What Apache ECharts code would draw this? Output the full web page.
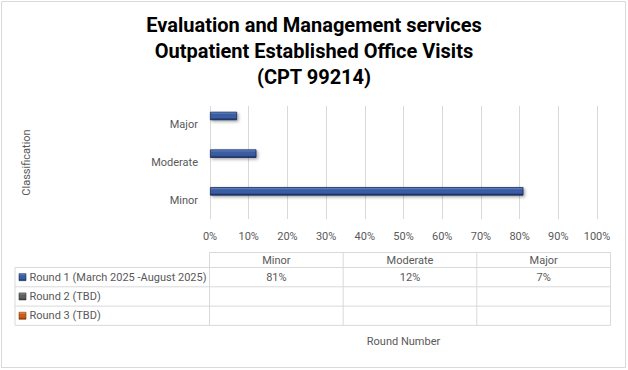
<!DOCTYPE html>
<html>
<head>
<meta charset="utf-8">
<script src="https://cdn.jsdelivr.net/npm/echarts@6/dist/echarts.min.js"></script>
<style>
html,body{margin:0;padding:0;background:#fff;}
#c{width:628px;height:370px;}
</style>
</head>
<body>
<div id="c"></div>
<script>
// ---- data ----
var titleLines = ['Evaluation and Management services', 'Outpatient Established Office Visits', '(CPT 99214)'];
var categories = ['Minor', 'Moderate', 'Major'];
var roundNames = ['Round 1 (March 2025 -August 2025)', 'Round 2 (TBD)', 'Round 3 (TBD)'];
var round1 = [81, 12, 7];
var round2 = [null, null, null];
var round3 = [null, null, null];
var xTicks = [0, 10, 20, 30, 40, 50, 60, 70, 80, 90, 100];
var yAxisTitle = 'Classification';
var xAxisTitle = 'Round Number';

// ---- styles ----
var FONT = 'Roboto, sans-serif';
var TXT = '#595959';
var roundColors = [
  ['#6f92d8', '#3a5ca3', '#172c57'],
  ['#9a9a9a', '#5f5f5f', '#333333'],
  ['#f5a060', '#c95e14', '#7f3606']
];
function grad(c) {
  return new echarts.graphic.LinearGradient(0, 0, 0, 1, [
    {offset: 0, color: c[0]}, {offset: 0.3, color: c[1]}, {offset: 0.7, color: c[1]}, {offset: 1, color: c[2]}
  ]);
}
var seriesData = [round1, round2, round3];

var chart = echarts.init(document.getElementById('c'), null, {renderer: 'svg'});

var GRID = {left: 210, right: 31, top: 106, bottom: 151};

var series = seriesData.map(function (d, i) {
  return {
    type: 'bar',
    name: roundNames[i],
    data: d,
    barWidth: 8.5,
    barGap: '4%',
    itemStyle: {
      color: grad(roundColors[i]),
      borderColor: roundColors[i][2],
      borderWidth: 0.8,
      shadowColor: 'rgba(0,0,0,0.35)',
      shadowBlur: 3,
      shadowOffsetX: 1.5,
      shadowOffsetY: 1.5
    },
    silent: true
  };
});

// Table layout
var T = {left: 15, labelRight: 209.5, right: 610.5, headTop: 252.5, headBottom: 267.5, rowH: 19.3};
function buildTable() {
  var els = [];
  var colW = (T.right - T.labelRight) / categories.length;
  var lineStyle = {stroke: '#d9d9d9', lineWidth: 1};
  var rowsBottom = T.headBottom + T.rowH * roundNames.length;
  els.push({type: 'line', shape: {x1: T.labelRight, y1: T.headTop, x2: T.right, y2: T.headTop}, style: lineStyle, silent: true});
  for (var r = 0; r <= roundNames.length; r++) {
    var y = T.headBottom + r * T.rowH;
    els.push({type: 'line', shape: {x1: T.left, y1: y, x2: T.right, y2: y}, style: lineStyle, silent: true});
  }
  els.push({type: 'line', shape: {x1: T.left, y1: T.headBottom, x2: T.left, y2: rowsBottom}, style: lineStyle, silent: true});
  for (var c = 0; c <= categories.length; c++) {
    var x = T.labelRight + c * colW;
    els.push({type: 'line', shape: {x1: x, y1: T.headTop, x2: x, y2: rowsBottom}, style: lineStyle, silent: true});
  }
  categories.forEach(function (cat, ci) {
    els.push({type: 'text', x: T.labelRight + (ci + 0.5) * colW, y: (T.headTop + T.headBottom) / 2,
      style: {text: cat, fill: TXT, font: '11px ' + FONT, align: 'center', verticalAlign: 'middle'}, silent: true});
  });
  roundNames.forEach(function (nm, ri) {
    var cy = T.headBottom + (ri + 0.5) * T.rowH;
    els.push({type: 'rect', shape: {x: 19, y: cy - 3.5, width: 7, height: 7},
      style: {fill: grad(roundColors[ri]), stroke: roundColors[ri][2], lineWidth: 0.6}, silent: true});
    els.push({type: 'text', x: 29.5, y: cy,
      style: {text: nm, fill: TXT, font: '11px ' + FONT, align: 'left', verticalAlign: 'middle'}, silent: true});
    seriesData[ri].forEach(function (v, ci) {
      if (v == null) return;
      els.push({type: 'text', x: T.labelRight + (ci + 0.5) * colW, y: cy,
        style: {text: v + '%', fill: TXT, font: '11px ' + FONT, align: 'center', verticalAlign: 'middle'}, silent: true});
    });
  });
  els.push({type: 'rect', shape: {x: 1.5, y: 1.5, width: 624, height: 366},
    style: {fill: 'none', stroke: '#d9d9d9', lineWidth: 1}, silent: true, z: -1});
  return els;
}

chart.setOption({
  animation: false,
  backgroundColor: '#fff',
  title: {
    text: titleLines.join('\n'),
    left: 'center',
    top: 7,
    textStyle: {fontFamily: FONT, fontWeight: 'bold', fontSize: 20, color: '#000', lineHeight: 26}
  },
  grid: GRID,
  xAxis: {
    type: 'value',
    min: xTicks[0],
    max: xTicks[xTicks.length - 1],
    interval: xTicks[1] - xTicks[0],
    axisLine: {show: false},
    axisTick: {show: false},
    splitLine: {lineStyle: {color: '#d9d9d9'}},
    axisLabel: {color: TXT, fontFamily: FONT, fontSize: 11, margin: 12, formatter: '{value}%'},
    name: xAxisTitle,
    nameLocation: 'middle',
    nameGap: 117,
    nameTextStyle: {color: TXT, fontFamily: FONT, fontSize: 11}
  },
  yAxis: {
    type: 'category',
    data: categories,
    axisLine: {show: false},
    axisTick: {show: false},
    axisLabel: {color: TXT, fontFamily: FONT, fontSize: 11, margin: 12},
    name: yAxisTitle,
    nameLocation: 'middle',
    nameRotate: 90,
    nameGap: 178,
    nameTextStyle: {color: TXT, fontFamily: FONT, fontSize: 11}
  },
  series: series,
  graphic: buildTable()
});
</script>
</body>
</html>
